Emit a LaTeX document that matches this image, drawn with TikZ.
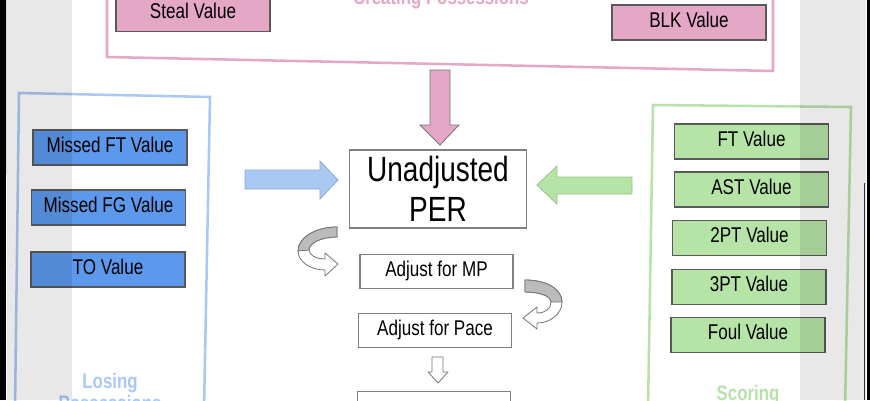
\documentclass[tikz,border=0pt]{standalone}
\usepackage{fontspec}
\setmainfont{Liberation Sans}[FakeStretch=0.8]
\usepackage{xcolor}
\definecolor{posspink}{HTML}{E4A8C6}
\definecolor{lossblue}{HTML}{5C98EC}
\definecolor{lossframe}{HTML}{A9C8F2}
\definecolor{scoregreen}{HTML}{B6E3A6}
\definecolor{scoreframe}{HTML}{B8E2AB}
\definecolor{ribbongrey}{HTML}{BBBBBB}

\begin{document}
\begin{tikzpicture}[x=0.75pt,y=-0.75pt,
		basebox/.style={draw=black!65,line width=0.8pt,inner sep=0pt},
		valbox/.style={basebox,minimum width=115.5pt,minimum height=26.25pt,text height=0.716em,text depth=0pt,font=\fontsize{16}{19}\selectfont},
		stagebox/.style={valbox,draw=black!50,fill=white,minimum width=114.75pt,minimum height=25.5pt},
		groupframe/.style={line width=1.9pt},
		grouptitle/.style={font=\bfseries\fontsize{15.75}{16.5}\selectfont,inner sep=0pt,align=center},
		blockarrow/.style={line width=0.6pt,line join=miter},
		ribbon/.style={draw=black!55,line width=0.6pt,line join=round}]
	\useasboundingbox (0,0) rectangle (870,400);
	\clip (0,0) rectangle (870,400);
	\fill[white] (0,0) rectangle (870,400);

	% the three groups
	\draw[groupframe,posspink] (107,-10) -- (107,57) -- (773,71) -- (773,-10);
	\draw[groupframe,lossframe] (19,93) -- (210,97) -- (204,410) -- (15,410) -- cycle;
	\draw[groupframe,scoreframe] (653,105) -- (851,107) -- (845,410) -- (648,410) -- cycle;

	\node[valbox,fill=posspink] (steal) at (193,14) {Steal Value};
	\node[valbox,fill=posspink] (blk) at (689,22.5) {BLK Value};
	\node[grouptitle,text=posspink,anchor=base] (creating) at (441,4.5) {Creating Possessions};

	\node[valbox,fill=lossblue] (missft) at (110,147.5) {Missed FT Value};
	\node[valbox,fill=lossblue] (missfg) at (108.5,207.5) {Missed FG Value};
	\node[valbox,fill=lossblue] (tov) at (108,269.5) {TO Value};
	\node[grouptitle,text=lossframe,anchor=north] (losing) at (110,373) {Losing\\Possessions};

	\node[valbox,fill=scoregreen] (ftv) at (751.5,141.5) {FT Value};
	\node[valbox,fill=scoregreen] (astv) at (751.5,189.5) {AST Value};
	\node[valbox,fill=scoregreen] (twopt) at (749.5,238) {2PT Value};
	\node[valbox,fill=scoregreen] (threept) at (749,287) {3PT Value};
	\node[valbox,fill=scoregreen] (foulv) at (748,335) {Foul Value};
	\node[grouptitle,text=scoreframe,anchor=north] (scoring) at (748,385) {Scoring};

	% middle column
	\node[basebox,draw=black!50,fill=white,minimum width=132.75pt,minimum height=58.5pt,
		align=center,font=\fontsize{26.25}{30}\selectfont] (per) at (438,189) {Unadjusted\\PER};
	\node[stagebox] (mp) at (436.5,271.5) {Adjust for MP};
	\node[stagebox] (pace) at (435,330.5) {Adjust for Pace};
	\node[stagebox] (next) at (434,408.5) {};

	% block arrows into per
	\filldraw[blockarrow,fill=posspink,draw=black!55]
		(430,70) -- (450,70) -- (450,125) -- (459,125) -- (440,145) -- (420,125) -- (430,125) -- cycle;
	\filldraw[blockarrow,fill=lossframe,draw=lossframe!85!black]
		(245,170) -- (320,170) -- (320,161) -- (338,180) -- (320,199) -- (320,189) -- (245,189) -- cycle;
	\filldraw[blockarrow,fill=scoregreen,draw=scoregreen!85!black]
		(632,177) -- (557,177) -- (557,166) -- (537,185) -- (557,204) -- (557,194) -- (632,194) -- cycle;

	% curved arrows between the stages
	\filldraw[ribbon,fill=white]
		(337,227) .. controls (315,227) and (298,238) .. (298,251)
		.. controls (298,262) and (311,270) .. (325,270)
		-- (325,276) -- (338,264) -- (325,253) -- (325,259)
		.. controls (316,259) and (309,255) .. (309,250)
		.. controls (309,243) and (321,237) .. (337,237) -- cycle;
	\filldraw[ribbon,fill=ribbongrey]
		(337,227) .. controls (315,227) and (298,238) .. (298,251)
		-- (309,250) .. controls (309,243) and (321,237) .. (337,237) -- cycle;
	\filldraw[ribbon,fill=white]
		(525,280) .. controls (548,280) and (562,290) .. (562,302)
		.. controls (562,314) and (550,323) .. (537,323)
		-- (537,329) -- (523,318) -- (537,307) -- (537,313)
		.. controls (545,313) and (551,309) .. (551,302)
		.. controls (551,296) and (540,292) .. (525,292) -- cycle;
	\filldraw[ribbon,fill=ribbongrey]
		(525,280) .. controls (548,280) and (562,290) .. (562,302)
		-- (551,302) .. controls (551,296) and (540,292) .. (525,292) -- cycle;
	\filldraw[ribbon,fill=white]
		(432,357) -- (443,357) -- (443,372) -- (448,372) -- (438,383) -- (428,372) -- (432,372) -- cycle;

	% screen edges
	\fill[black,opacity=0.09] (7,0) rectangle (72,400);
	\fill[black,opacity=0.09] (800,0) rectangle (866,400);
	\fill[black] (0,0) rectangle (6,400);
	\draw[black!15,line width=0.75pt] (6.5,0) -- (6.5,175);
	\fill[black] (867,0) rectangle (870,400);
	\draw[black!80,line width=0.75pt] (864,183) -- (864,400);
\end{tikzpicture}
\end{document}
